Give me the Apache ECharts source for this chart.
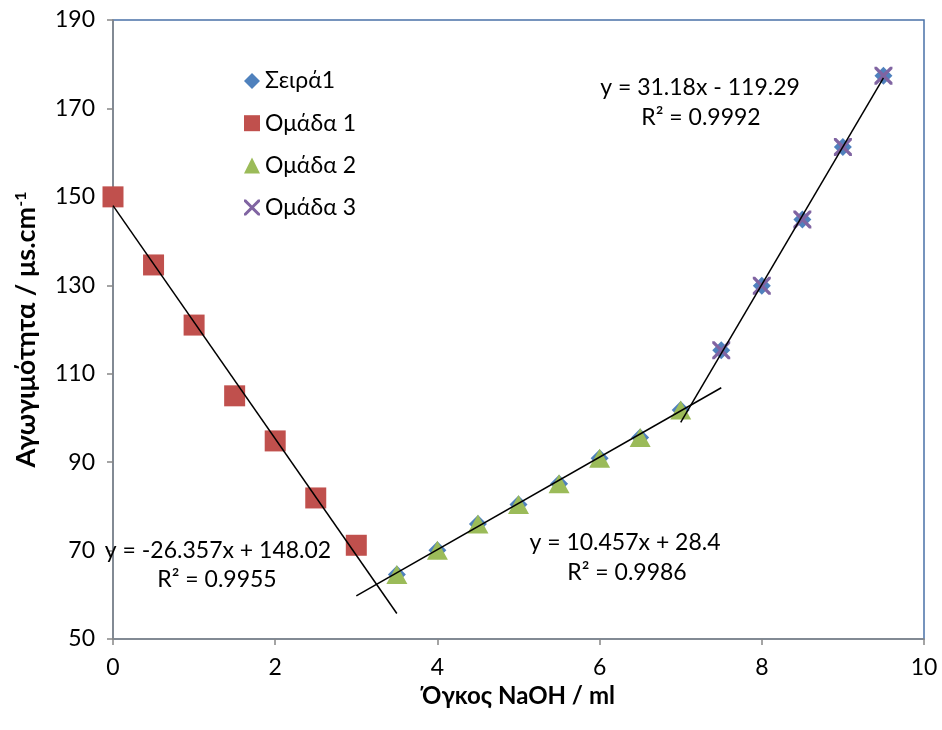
<!DOCTYPE html>
<html>
<head>
<meta charset="utf-8">
<script src="https://cdn.jsdelivr.net/npm/echarts@6/dist/echarts.min.js"></script>
<style>html,body{margin:0;padding:0;background:#fff}#c{width:942px;height:730px}</style>
</head>
<body>
<div id="c"></div>
<script>
// Data
var xAll = [0, 0.5, 1, 1.5, 2, 2.5, 3, 3.5, 4, 4.5, 5, 5.5, 6, 6.5, 7, 7.5, 8, 8.5, 9, 9.5];
var seira1 = [150, 134.6, 121, 105, 94.8, 81.9, 71.2, 64.6, 70.1, 76, 80.4, 85.1, 90.9, 95.6, 101.8, 115.3, 129.9, 144.9, 161.3, 177.4];
var group1X = [0, 0.5, 1, 1.5, 2, 2.5, 3];
var group1Y = [150, 134.6, 121, 105, 94.8, 81.9, 71.2];
var group2X = [3.5, 4, 4.5, 5, 5.5, 6, 6.5, 7];
var group2Y = [64.6, 70.1, 76, 80.4, 85.1, 90.9, 95.6, 101.8];
var group3X = [7.5, 8, 8.5, 9, 9.5];
var group3Y = [115.3, 129.9, 144.9, 161.3, 177.4];
// trendline equations (as printed) and drawn extents
var trend1 = {slope: -26.357, intercept: 148.02, from: 0, to: 3.5, eq: 'y = -26.357x + 148.02', r2: 'R² = 0.9955'};
var trend2 = {slope: 10.457, intercept: 28.4, from: 3, to: 7.5, eq: 'y = 10.457x + 28.4', r2: 'R² = 0.9986'};
var trend3 = {slope: 31.18, intercept: -119.29, from: 7, to: 9.5, eq: 'y = 31.18x - 119.29', r2: 'R² = 0.9992'};
var xTicks = [0, 2, 4, 6, 8, 10];
var yTicks = [50, 70, 90, 110, 130, 150, 170, 190];
var seriesNames = ['Σειρά1', 'Ομάδα 1', 'Ομάδα 2', 'Ομάδα 3'];

var FONT = 'Lato';
var FS = 23;
var xPath = 'path://M0,0 L1.3,0 L5,3.7 L8.7,0 L10,0 L10,1.3 L6.3,5 L10,8.7 L10,10 L8.7,10 L5,6.3 L1.3,10 L0,10 L0,8.7 L3.7,5 L0,1.3 Z';

function pairs(xs, ys) { return xs.map(function (x, i) { return [x, ys[i]]; }); }
function trendData(t) { return [[t.from, t.slope * t.from + t.intercept], [t.to, t.slope * t.to + t.intercept]]; }
function trendSeries(t) {
  return {type: 'line', data: trendData(t), symbol: 'none', silent: true, z: 5,
    lineStyle: {color: '#000', width: 1.5}};
}

var chart = echarts.init(document.getElementById('c'), null, {renderer: 'canvas'});
var opt = {
  animation: false,
  backgroundColor: '#fff',
  grid: {left: 113, top: 20, right: 18, bottom: 91, show: true, borderColor: '#4a72a8', borderWidth: 1.5, backgroundColor: 'transparent'},
  xAxis: {
    type: 'value', min: 0, max: 10, interval: 2,
    name: 'Όγκος NaOH / ml', nameLocation: 'middle', nameGap: 38,
    nameTextStyle: {fontFamily: FONT, fontSize: 24, fontWeight: 'bold', color: '#000'},
    axisLine: {show: true, lineStyle: {color: '#878787', width: 1.5}},
    axisTick: {show: true, length: 6, inside: false, lineStyle: {color: '#878787', width: 1.5}},
    axisLabel: {fontFamily: FONT, fontSize: FS, color: '#000', margin: 17},
    splitLine: {show: false}
  },
  yAxis: {
    type: 'value', min: 50, max: 190, interval: 20,
    name: '{t|Αγωγιμότητα / μs.cm}{s|-1}', nameLocation: 'middle', nameGap: 73, nameRotate: 90,
    nameTextStyle: {rich: {
      t: {fontFamily: FONT, fontSize: 27, fontWeight: 'bold', color: '#000'},
      s: {fontFamily: FONT, fontSize: 16, fontWeight: 'bold', color: '#000', verticalAlign: 'top', padding: [0, 0, 11, 0]}
    }},
    axisLine: {show: true, lineStyle: {color: '#878787', width: 1.5}},
    axisTick: {show: true, length: 6, inside: false, lineStyle: {color: '#878787', width: 1.5}},
    axisLabel: {fontFamily: FONT, fontSize: FS, color: '#000', margin: 18},
    splitLine: {show: false}
  },
  legend: {
    orient: 'vertical', left: 239, top: 64,
    data: [
      {name: seriesNames[0], icon: 'diamond'},
      {name: seriesNames[1], icon: 'rect'},
      {name: seriesNames[2], icon: 'triangle'},
      {name: seriesNames[3], icon: xPath}
    ],
    itemWidth: 16, itemHeight: 16, itemGap: 18.2,
    textStyle: {fontFamily: FONT, fontSize: FS, lineHeight: 24, color: '#000', padding: [0, 0, 0, 0]}
  },
  series: [
    {name: seriesNames[0], type: 'scatter', data: pairs(xAll, seira1), symbol: 'diamond', symbolSize: 18,
      itemStyle: {color: '#4F81BD', opacity: 1}, z: 2},
    {name: seriesNames[1], type: 'scatter', data: pairs(group1X, group1Y), symbol: 'rect', symbolSize: 21,
      itemStyle: {color: '#C0504D', opacity: 1}, z: 3},
    {name: seriesNames[2], type: 'scatter', data: pairs(group2X, group2Y), symbol: 'triangle', symbolSize: [21, 19],
      itemStyle: {color: '#9BBB59', opacity: 1}, z: 3},
    {name: seriesNames[3], type: 'scatter', data: pairs(group3X, group3Y), symbol: xPath, symbolSize: 18,
      itemStyle: {color: '#8064A2', opacity: 1}, z: 4},
    trendSeries(trend1), trendSeries(trend2), trendSeries(trend3)
  ]
};
chart.setOption(opt);

function eqLabel(t, cx, cy, cx2, cy2) {
  return [
    {type: 'text', x: cx, y: cy, style: {text: t.eq, fontFamily: FONT, fontSize: FS, fill: '#000', align: 'center', verticalAlign: 'middle'}, z: 10},
    {type: 'text', x: cx2, y: cy2, style: {text: t.r2, fontFamily: FONT, fontSize: FS, fill: '#000', align: 'center', verticalAlign: 'middle'}, z: 10}
  ];
}
chart.setOption({graphic: [].concat(
  eqLabel(trend1, 218, 551, 217, 580),
  eqLabel(trend2, 625, 543, 627, 573),
  eqLabel(trend3, 700, 88, 701, 118)
)});
</script>
</body>
</html>
